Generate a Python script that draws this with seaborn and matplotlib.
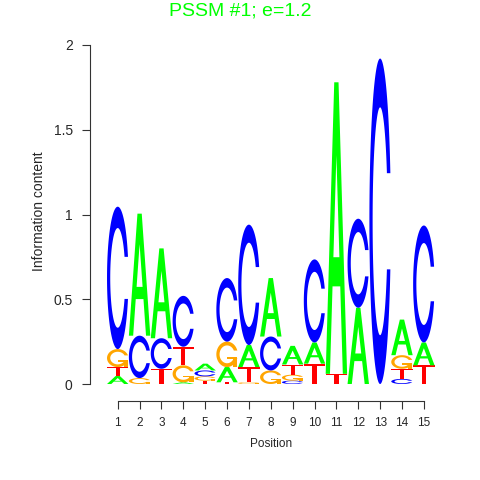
import numpy as np
import pandas as pd
import seaborn as sns
import matplotlib.pyplot as plt
from matplotlib.patches import Polygon

#%% Data: information content (bits) of each base per position, read off the logo
positions = list(range(1, 16))
bits_A = [0.047, 0.72, 0.53, 0.01, 0.04, 0.09, 0.13, 0.345, 0.11, 0.125, 1.72, 0.45, 0.0, 0.21, 0.135]
bits_C = [0.84, 0.25, 0.18, 0.30, 0.035, 0.375, 0.71, 0.20, 0.02, 0.49, 0.0, 0.525, 1.92, 0.03, 0.69]
bits_G = [0.106, 0.035, 0.0, 0.10, 0.025, 0.15, 0.01, 0.08, 0.035, 0.0, 0.0, 0.0, 0.0, 0.08, 0.0]
bits_T = [0.053, 0.0, 0.09, 0.11, 0.02, 0.01, 0.09, 0.0, 0.06, 0.12, 0.06, 0.0, 0.0, 0.06, 0.11]

y_ticks = [0, 0.5, 1, 1.5, 2]
y_tick_labels = ["0", "0.5", "1", "1.5", "2"]
title = "PSSM #1; e=1.2"

colors = {"A": "#00FF00", "C": "#0000FF", "G": "#FFA500", "T": "#FF0000"}

df = pd.DataFrame({"pos": positions, "A": bits_A, "C": bits_C,
                   "G": bits_G, "T": bits_T})


#%% Letter glyphs in a unit box (same construction as R seqLogo)
def glyph_C():
    a1 = np.linspace(0.3 + np.pi / 2, np.pi, 100)
    a2 = np.linspace(np.pi, 1.5 * np.pi, 100)
    xl = 0.5 + 0.5 * np.sin(np.r_[a1, a2])
    yl = 0.5 + 0.5 * np.cos(np.r_[a1, a2])
    x = np.r_[xl, xl[::-1]]
    y = np.r_[yl, 1 - yl[::-1]]
    top = (0.5 + 0.5 * np.cos(a1)).max()
    xi1 = 0.5 + 0.35 * np.sin(a1)
    yi1 = 0.5 + 0.35 * np.cos(a1)
    keep = yi1 <= top
    xi1, yi1 = xi1[keep], yi1[keep]
    yi1[0] = top
    xi = np.r_[xi1, 0.5 + 0.35 * np.sin(a2)]
    yi = np.r_[yi1, 0.5 + 0.35 * np.cos(a2)]
    x1 = np.r_[xi, xi[::-1]]
    y1 = np.r_[yi, 1 - yi[::-1]]
    return np.c_[np.r_[x, x1[::-1]], np.r_[y, y1[::-1]]]


def glyph_G():
    ring = glyph_C()
    a1 = np.linspace(0.3 + np.pi / 2, np.pi, 100)
    r1 = (0.5 + 0.5 * np.sin(a1)).max()
    h1 = 0.4
    bar = np.c_[[r1, 0.5, 0.5, r1 - 0.2, r1 - 0.2, r1, r1],
                [h1, h1, h1 - 0.1, h1 - 0.1, 0, 0, h1]]
    return [(ring, "fill"), (bar, "fill")]


def glyph_A():
    outer = 0.1 * np.c_[[0, 4, 6, 10, 8, 6.8, 3.2, 2, 0],
                        [0, 10, 10, 0, 0, 3, 3, 0, 0]]
    hole = 0.1 * np.c_[[3.6, 5, 6.4, 3.6], [4, 7.5, 4, 4]]
    return [(outer, "fill"), (hole, "white")]


def glyph_T():
    return [(0.1 * np.c_[[0, 10, 10, 6, 6, 4, 4, 0],
                         [10, 10, 9, 9, 0, 0, 9, 9]], "fill")]


glyphs = {"A": glyph_A(), "C": [(glyph_C(), "fill")],
          "G": glyph_G(), "T": glyph_T()}

#%% Plot
sns.set_style("ticks")
plt.rcParams['font.family'] = ['Liberation Sans', 'DejaVu Sans']

fig = plt.figure(figsize=(4.8, 4.8), dpi=100)
ax = fig.add_axes([0.2225, 0.2, 0.6833, 0.70625])

width = 0.98
for _, row in df.iterrows():
    heights = row[["A", "C", "G", "T"]].astype(float).sort_values()
    y0 = 0.0
    for base, h in heights.items():
        if h <= 0:
            continue
        for shape, kind in glyphs[base]:
            xy = np.c_[row["pos"] - width / 2 + width * shape[:, 0],
                       y0 + h * shape[:, 1]]
            fc = colors[base] if kind == "fill" else "white"
            ax.add_patch(Polygon(xy, closed=True, facecolor=fc,
                                 edgecolor="none", lw=0))
        y0 += h

ax.set_xlim(0.5, 15.5)
ax.set_ylim(0, 2)
ax.set_xticks(positions)
ax.set_xticklabels([str(p) for p in positions])
ax.set_yticks(y_ticks)
ax.set_yticklabels(y_tick_labels)

ax.tick_params(axis="both", length=5.6, width=0.8, color="#333333")
ax.tick_params(axis="x", labelsize=8.5, pad=6)
ax.tick_params(axis="y", labelsize=10, pad=7)
for sp in ax.spines.values():
    sp.set_linewidth(0.8)
    sp.set_color("#333333")
sns.despine(ax=ax, offset=12, trim=True)

ax.set_xlabel("Position", fontsize=8.5)
ax.xaxis.set_label_coords(0.5, -0.159)
ax.set_ylabel("Information content", fontsize=10)
ax.yaxis.set_label_coords(-0.185, 0.51)

fig.text(0.5, 1 - 15.0 / 480, title, ha="center", va="baseline",
         color="#00FF00", fontsize=14)

fig.savefig("out.png", dpi=100)
